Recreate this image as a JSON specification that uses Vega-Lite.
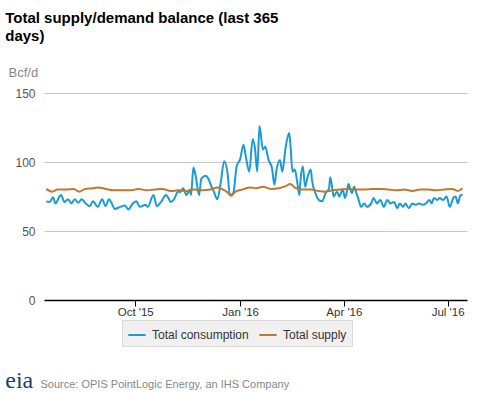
{
 "$schema": "https://vega.github.io/schema/vega-lite/v6.json",
 "autosize": {"type": "none"},
 "padding": {"left": 44, "top": 93, "right": 10, "bottom": 93},
 "width": 423,
 "height": 207,
 "background": "white",
 "title": {"text": ["Total supply/demand balance (last 365", "days)"], "anchor": "start", "frame": "bounds", "font": "Liberation Sans", "fontSize": 15, "fontWeight": "bold", "color": "#000000", "lineHeight": 18, "offset": 19, "dy": -3},
 "config": {"view": {"stroke": null}, "font": "Liberation Sans"},
 "layer": [
  {
   "data": {"values": [
    {"date": "2015-07-15", "series": "Total consumption", "value": 71.3},
    {"date": "2015-07-18", "series": "Total consumption", "value": 71.0},
    {"date": "2015-07-21", "series": "Total consumption", "value": 74.5},
    {"date": "2015-07-23", "series": "Total consumption", "value": 70.0},
    {"date": "2015-07-27", "series": "Total consumption", "value": 75.5},
    {"date": "2015-07-28", "series": "Total consumption", "value": 76.0},
    {"date": "2015-07-31", "series": "Total consumption", "value": 71.0},
    {"date": "2015-08-03", "series": "Total consumption", "value": 73.0},
    {"date": "2015-08-06", "series": "Total consumption", "value": 70.0},
    {"date": "2015-08-09", "series": "Total consumption", "value": 73.0},
    {"date": "2015-08-12", "series": "Total consumption", "value": 70.5},
    {"date": "2015-08-15", "series": "Total consumption", "value": 73.0},
    {"date": "2015-08-18", "series": "Total consumption", "value": 70.5},
    {"date": "2015-08-22", "series": "Total consumption", "value": 68.0},
    {"date": "2015-08-25", "series": "Total consumption", "value": 71.5},
    {"date": "2015-08-29", "series": "Total consumption", "value": 67.5},
    {"date": "2015-09-02", "series": "Total consumption", "value": 73.0},
    {"date": "2015-09-05", "series": "Total consumption", "value": 68.0},
    {"date": "2015-09-08", "series": "Total consumption", "value": 73.0},
    {"date": "2015-09-11", "series": "Total consumption", "value": 69.0},
    {"date": "2015-09-13", "series": "Total consumption", "value": 66.0},
    {"date": "2015-09-18", "series": "Total consumption", "value": 67.5},
    {"date": "2015-09-22", "series": "Total consumption", "value": 68.5},
    {"date": "2015-09-25", "series": "Total consumption", "value": 65.5},
    {"date": "2015-09-28", "series": "Total consumption", "value": 69.0},
    {"date": "2015-10-02", "series": "Total consumption", "value": 71.5},
    {"date": "2015-10-05", "series": "Total consumption", "value": 67.5},
    {"date": "2015-10-10", "series": "Total consumption", "value": 69.0},
    {"date": "2015-10-12", "series": "Total consumption", "value": 67.5},
    {"date": "2015-10-17", "series": "Total consumption", "value": 76.0},
    {"date": "2015-10-20", "series": "Total consumption", "value": 68.0},
    {"date": "2015-10-24", "series": "Total consumption", "value": 71.5},
    {"date": "2015-10-28", "series": "Total consumption", "value": 76.0},
    {"date": "2015-10-30", "series": "Total consumption", "value": 74.0},
    {"date": "2015-11-01", "series": "Total consumption", "value": 71.0},
    {"date": "2015-11-04", "series": "Total consumption", "value": 73.0},
    {"date": "2015-11-08", "series": "Total consumption", "value": 79.0},
    {"date": "2015-11-09", "series": "Total consumption", "value": 78.0},
    {"date": "2015-11-12", "series": "Total consumption", "value": 81.0},
    {"date": "2015-11-15", "series": "Total consumption", "value": 76.0},
    {"date": "2015-11-18", "series": "Total consumption", "value": 80.0},
    {"date": "2015-11-19", "series": "Total consumption", "value": 76.0},
    {"date": "2015-11-21", "series": "Total consumption", "value": 96.0},
    {"date": "2015-11-23", "series": "Total consumption", "value": 90.0},
    {"date": "2015-11-26", "series": "Total consumption", "value": 76.0},
    {"date": "2015-11-28", "series": "Total consumption", "value": 88.0},
    {"date": "2015-12-02", "series": "Total consumption", "value": 90.0},
    {"date": "2015-12-04", "series": "Total consumption", "value": 88.0},
    {"date": "2015-12-07", "series": "Total consumption", "value": 82.0},
    {"date": "2015-12-09", "series": "Total consumption", "value": 78.5},
    {"date": "2015-12-12", "series": "Total consumption", "value": 73.0},
    {"date": "2015-12-15", "series": "Total consumption", "value": 85.0},
    {"date": "2015-12-18", "series": "Total consumption", "value": 100.5},
    {"date": "2015-12-21", "series": "Total consumption", "value": 92.0},
    {"date": "2015-12-23", "series": "Total consumption", "value": 76.0},
    {"date": "2015-12-26", "series": "Total consumption", "value": 77.5},
    {"date": "2015-12-29", "series": "Total consumption", "value": 97.0},
    {"date": "2016-01-01", "series": "Total consumption", "value": 102.0},
    {"date": "2016-01-04", "series": "Total consumption", "value": 112.5},
    {"date": "2016-01-06", "series": "Total consumption", "value": 104.0},
    {"date": "2016-01-09", "series": "Total consumption", "value": 93.0},
    {"date": "2016-01-12", "series": "Total consumption", "value": 116.5},
    {"date": "2016-01-14", "series": "Total consumption", "value": 110.0},
    {"date": "2016-01-16", "series": "Total consumption", "value": 93.0},
    {"date": "2016-01-18", "series": "Total consumption", "value": 126.0},
    {"date": "2016-01-21", "series": "Total consumption", "value": 109.0},
    {"date": "2016-01-23", "series": "Total consumption", "value": 111.0},
    {"date": "2016-01-26", "series": "Total consumption", "value": 101.5},
    {"date": "2016-01-29", "series": "Total consumption", "value": 95.5},
    {"date": "2016-01-31", "series": "Total consumption", "value": 83.5},
    {"date": "2016-02-02", "series": "Total consumption", "value": 94.5},
    {"date": "2016-02-05", "series": "Total consumption", "value": 101.5},
    {"date": "2016-02-07", "series": "Total consumption", "value": 93.0},
    {"date": "2016-02-10", "series": "Total consumption", "value": 111.0},
    {"date": "2016-02-13", "series": "Total consumption", "value": 121.0},
    {"date": "2016-02-14", "series": "Total consumption", "value": 114.0},
    {"date": "2016-02-16", "series": "Total consumption", "value": 93.0},
    {"date": "2016-02-18", "series": "Total consumption", "value": 94.5},
    {"date": "2016-02-20", "series": "Total consumption", "value": 86.0},
    {"date": "2016-02-22", "series": "Total consumption", "value": 76.0},
    {"date": "2016-02-23", "series": "Total consumption", "value": 87.0},
    {"date": "2016-02-25", "series": "Total consumption", "value": 97.0},
    {"date": "2016-02-27", "series": "Total consumption", "value": 82.0},
    {"date": "2016-02-29", "series": "Total consumption", "value": 88.5},
    {"date": "2016-03-03", "series": "Total consumption", "value": 94.5},
    {"date": "2016-03-04", "series": "Total consumption", "value": 87.0},
    {"date": "2016-03-07", "series": "Total consumption", "value": 77.5},
    {"date": "2016-03-10", "series": "Total consumption", "value": 72.5},
    {"date": "2016-03-13", "series": "Total consumption", "value": 71.5},
    {"date": "2016-03-16", "series": "Total consumption", "value": 77.5},
    {"date": "2016-03-19", "series": "Total consumption", "value": 81.0},
    {"date": "2016-03-20", "series": "Total consumption", "value": 89.0},
    {"date": "2016-03-22", "series": "Total consumption", "value": 80.0},
    {"date": "2016-03-23", "series": "Total consumption", "value": 75.0},
    {"date": "2016-03-26", "series": "Total consumption", "value": 78.5},
    {"date": "2016-03-28", "series": "Total consumption", "value": 75.0},
    {"date": "2016-03-31", "series": "Total consumption", "value": 80.0},
    {"date": "2016-04-02", "series": "Total consumption", "value": 74.0},
    {"date": "2016-04-04", "series": "Total consumption", "value": 80.0},
    {"date": "2016-04-05", "series": "Total consumption", "value": 84.0},
    {"date": "2016-04-08", "series": "Total consumption", "value": 77.5},
    {"date": "2016-04-10", "series": "Total consumption", "value": 82.0},
    {"date": "2016-04-12", "series": "Total consumption", "value": 77.5},
    {"date": "2016-04-14", "series": "Total consumption", "value": 72.5},
    {"date": "2016-04-16", "series": "Total consumption", "value": 67.5},
    {"date": "2016-04-19", "series": "Total consumption", "value": 70.0},
    {"date": "2016-04-21", "series": "Total consumption", "value": 67.5},
    {"date": "2016-04-25", "series": "Total consumption", "value": 70.0},
    {"date": "2016-04-27", "series": "Total consumption", "value": 74.0},
    {"date": "2016-04-30", "series": "Total consumption", "value": 70.0},
    {"date": "2016-05-03", "series": "Total consumption", "value": 72.5},
    {"date": "2016-05-06", "series": "Total consumption", "value": 67.5},
    {"date": "2016-05-09", "series": "Total consumption", "value": 72.5},
    {"date": "2016-05-12", "series": "Total consumption", "value": 70.0},
    {"date": "2016-05-15", "series": "Total consumption", "value": 71.0},
    {"date": "2016-05-18", "series": "Total consumption", "value": 66.5},
    {"date": "2016-05-20", "series": "Total consumption", "value": 70.0},
    {"date": "2016-05-23", "series": "Total consumption", "value": 67.5},
    {"date": "2016-05-25", "series": "Total consumption", "value": 70.0},
    {"date": "2016-05-28", "series": "Total consumption", "value": 66.5},
    {"date": "2016-05-31", "series": "Total consumption", "value": 70.0},
    {"date": "2016-06-03", "series": "Total consumption", "value": 69.0},
    {"date": "2016-06-06", "series": "Total consumption", "value": 70.0},
    {"date": "2016-06-09", "series": "Total consumption", "value": 69.0},
    {"date": "2016-06-12", "series": "Total consumption", "value": 70.0},
    {"date": "2016-06-15", "series": "Total consumption", "value": 72.5},
    {"date": "2016-06-17", "series": "Total consumption", "value": 70.0},
    {"date": "2016-06-19", "series": "Total consumption", "value": 74.0},
    {"date": "2016-06-22", "series": "Total consumption", "value": 72.5},
    {"date": "2016-06-24", "series": "Total consumption", "value": 74.0},
    {"date": "2016-06-27", "series": "Total consumption", "value": 72.5},
    {"date": "2016-06-30", "series": "Total consumption", "value": 75.0},
    {"date": "2016-07-03", "series": "Total consumption", "value": 67.5},
    {"date": "2016-07-06", "series": "Total consumption", "value": 74.0},
    {"date": "2016-07-08", "series": "Total consumption", "value": 75.0},
    {"date": "2016-07-10", "series": "Total consumption", "value": 70.0},
    {"date": "2016-07-12", "series": "Total consumption", "value": 75.5},
    {"date": "2016-07-14", "series": "Total consumption", "value": 76.5},
    {"date": "2015-07-15", "series": "Total supply", "value": 80.5},
    {"date": "2015-07-20", "series": "Total supply", "value": 78.5},
    {"date": "2015-07-25", "series": "Total supply", "value": 80.0},
    {"date": "2015-08-01", "series": "Total supply", "value": 80.0},
    {"date": "2015-08-08", "series": "Total supply", "value": 80.5},
    {"date": "2015-08-13", "series": "Total supply", "value": 78.5},
    {"date": "2015-08-18", "series": "Total supply", "value": 80.5},
    {"date": "2015-08-25", "series": "Total supply", "value": 81.0},
    {"date": "2015-08-29", "series": "Total supply", "value": 81.5},
    {"date": "2015-09-05", "series": "Total supply", "value": 80.5},
    {"date": "2015-09-12", "series": "Total supply", "value": 79.5},
    {"date": "2015-09-20", "series": "Total supply", "value": 79.5},
    {"date": "2015-09-27", "series": "Total supply", "value": 79.5},
    {"date": "2015-10-04", "series": "Total supply", "value": 80.5},
    {"date": "2015-10-11", "series": "Total supply", "value": 79.5},
    {"date": "2015-10-18", "series": "Total supply", "value": 80.0},
    {"date": "2015-10-25", "series": "Total supply", "value": 80.5},
    {"date": "2015-11-01", "series": "Total supply", "value": 79.0},
    {"date": "2015-11-08", "series": "Total supply", "value": 79.5},
    {"date": "2015-11-15", "series": "Total supply", "value": 79.0},
    {"date": "2015-11-22", "series": "Total supply", "value": 80.0},
    {"date": "2015-11-29", "series": "Total supply", "value": 79.5},
    {"date": "2015-12-06", "series": "Total supply", "value": 80.0},
    {"date": "2015-12-12", "series": "Total supply", "value": 81.5},
    {"date": "2015-12-17", "series": "Total supply", "value": 80.0},
    {"date": "2015-12-21", "series": "Total supply", "value": 78.0},
    {"date": "2015-12-24", "series": "Total supply", "value": 75.5},
    {"date": "2015-12-28", "series": "Total supply", "value": 78.5},
    {"date": "2016-01-03", "series": "Total supply", "value": 80.0},
    {"date": "2016-01-10", "series": "Total supply", "value": 81.5},
    {"date": "2016-01-15", "series": "Total supply", "value": 81.0},
    {"date": "2016-01-21", "series": "Total supply", "value": 82.0},
    {"date": "2016-01-28", "series": "Total supply", "value": 80.5},
    {"date": "2016-02-04", "series": "Total supply", "value": 81.0},
    {"date": "2016-02-10", "series": "Total supply", "value": 82.5},
    {"date": "2016-02-14", "series": "Total supply", "value": 84.0},
    {"date": "2016-02-18", "series": "Total supply", "value": 81.5},
    {"date": "2016-02-25", "series": "Total supply", "value": 80.0},
    {"date": "2016-03-03", "series": "Total supply", "value": 80.0},
    {"date": "2016-03-10", "series": "Total supply", "value": 79.0},
    {"date": "2016-03-15", "series": "Total supply", "value": 78.5},
    {"date": "2016-03-22", "series": "Total supply", "value": 79.5},
    {"date": "2016-03-29", "series": "Total supply", "value": 80.0},
    {"date": "2016-04-05", "series": "Total supply", "value": 80.5},
    {"date": "2016-04-12", "series": "Total supply", "value": 80.0},
    {"date": "2016-04-19", "series": "Total supply", "value": 80.0},
    {"date": "2016-04-26", "series": "Total supply", "value": 80.5},
    {"date": "2016-05-03", "series": "Total supply", "value": 80.5},
    {"date": "2016-05-10", "series": "Total supply", "value": 80.0},
    {"date": "2016-05-17", "series": "Total supply", "value": 79.5},
    {"date": "2016-05-24", "series": "Total supply", "value": 80.0},
    {"date": "2016-05-31", "series": "Total supply", "value": 79.0},
    {"date": "2016-06-07", "series": "Total supply", "value": 80.0},
    {"date": "2016-06-14", "series": "Total supply", "value": 80.0},
    {"date": "2016-06-21", "series": "Total supply", "value": 79.5},
    {"date": "2016-06-28", "series": "Total supply", "value": 80.0},
    {"date": "2016-07-05", "series": "Total supply", "value": 80.5},
    {"date": "2016-07-10", "series": "Total supply", "value": 79.0},
    {"date": "2016-07-14", "series": "Total supply", "value": 81.0}
   ]},
   "mark": {"type": "line", "strokeWidth": 2, "interpolate": "monotone"},
   "encoding": {
    "x": {"field": "date", "type": "temporal",
     "scale": {"domain": [{"year": 2015, "month": 7, "date": 13}, {"year": 2016, "month": 7, "date": 18}]},
     "axis": {"values": [{"year": 2015, "month": 10, "date": 1}, {"year": 2016, "month": 1, "date": 1}, {"year": 2016, "month": 4, "date": 1}, {"year": 2016, "month": 7, "date": 1}],
      "format": "%b '%y", "grid": false, "domainColor": "#000000", "domainWidth": 1.5, "tickColor": "#000000", "tickSize": 6,
      "labelColor": "#333333", "labelFontSize": 11.5, "labelPadding": 0,
      "title": "Source: OPIS PointLogic Energy, an IHS Company", "titleX": -4, "titleY": 87, "titleAlign": "left", "titleAnchor": null, "titleBaseline": "alphabetic",
      "titleColor": "#888888", "titleFontSize": 11, "titleFontWeight": "normal"}},
    "y": {"field": "value", "type": "quantitative",
     "scale": {"domain": [0, 150], "nice": false},
     "axis": {"values": [0, 50, 100, 150], "title": "Bcf/d", "titleAngle": 0, "titleAlign": "left", "titleBaseline": "alphabetic", "titleX": -36, "titleY": -17,
      "titleColor": "#888888", "titleFontSize": 13, "titleFontWeight": "normal",
      "labelColor": "#555555", "labelFontSize": 12, "labelPadding": 9, "domain": false, "ticks": false, "gridColor": "#c8c8c8", "gridWidth": 1}},
    "color": {"field": "series", "type": "nominal",
     "scale": {"domain": ["Total consumption", "Total supply"], "range": ["#1a9bd7", "#c0772e"]},
     "legend": {"orient": "none", "legendX": 78, "legendY": 227, "direction": "horizontal", "title": null,
      "fillColor": "#f0f0f0", "strokeColor": "#d9d9d9", "padding": 5, "symbolType": "stroke", "symbolStrokeWidth": 2, "symbolSize": 300,
      "labelFontSize": 12, "labelColor": "#333333", "columnPadding": 6, "labelOffset": 5}}
   }
  },
  {
   "data": {"values": [{"logo": "eia"}]},
   "mark": {"type": "text", "font": "Liberation Serif", "fontSize": 24, "color": "#1b3f6e", "align": "left", "baseline": "alphabetic", "clip": false},
   "encoding": {
    "x": {"datum": {"year": 2015, "month": 6, "date": 9}, "type": "temporal"},
    "y": {"datum": -63.5, "type": "quantitative"},
    "text": {"field": "logo"}
   }
  }
 ]
}
